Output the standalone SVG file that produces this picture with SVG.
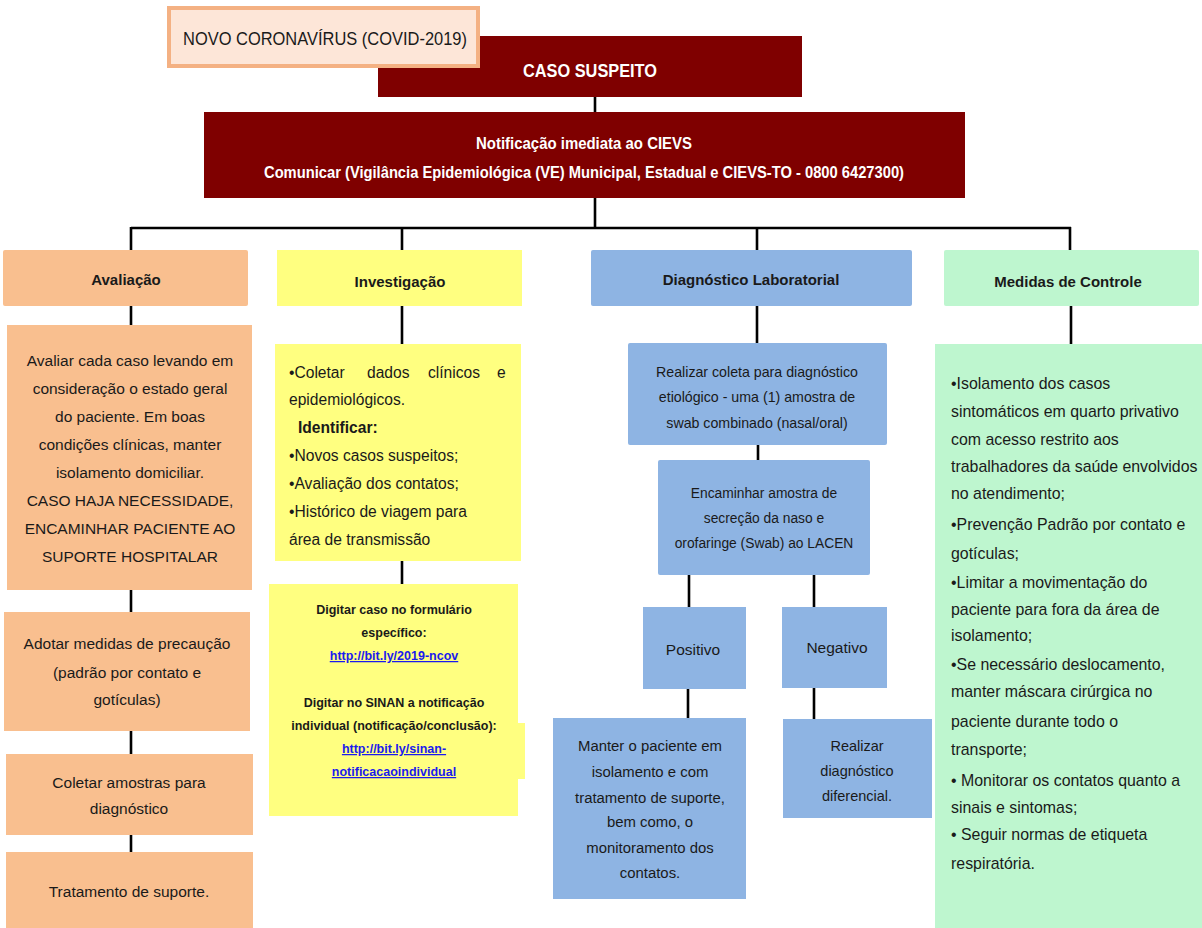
<svg xmlns="http://www.w3.org/2000/svg" width="1202" height="928" viewBox="0 0 1202 928">
<style>
text{font-family:"Liberation Sans",Arial,sans-serif;fill:#1a1a1a}
.c{text-anchor:middle}
.b{font-weight:bold}
.w{fill:#ffffff;font-weight:bold}
.lk{fill:#1a1aee;text-decoration:underline;font-weight:bold}
.ln{fill:none;stroke:#000;stroke-width:2.6}
.mar{fill:#7f0000}
.pe{fill:#f9bf8f}
.ye{fill:#ffff80}
.bl{fill:#8eb4e3}
.gr{fill:#bef6cf}
.av{font-size:15.5px}
.iv{font-size:15.6px}
.gt{font-size:15.9px}
.hd{font-size:15px;font-weight:bold}
.dg{font-size:12.5px;font-weight:bold}
</style>
<rect width="1202" height="928" fill="#ffffff"/>

<g id="connectors">
<path class="ln" d="M595 97V112 M595 198V228 M131 228H1071 M131 227V250 M402 227V250 M757 227V250 M1070 227V250"/>
<path class="ln" d="M131 306V325 M402 306V344 M757 306V343 M1071 306V344"/>
<path class="ln" d="M131 590V612 M131 731V754 M131 835V852"/>
<path class="ln" d="M402 561V584"/>
<path class="ln" d="M758 445V460 M689 575V607 M814 575V607 M688 689V718 M814 688V719"/>
</g>

<g id="caso-suspeito">
<rect class="mar" x="378" y="36" width="424" height="61"/>
<text class="w c" x="590" y="77" font-size="19" textLength="134" lengthAdjust="spacingAndGlyphs">CASO SUSPEITO</text>
</g>

<g id="titulo">
<rect x="169" y="8" width="309" height="58" fill="#fde6d8" stroke="#f4b183" stroke-width="4"/>
<text class="c" x="325" y="45" font-size="18" textLength="284" lengthAdjust="spacingAndGlyphs">NOVO CORONAVÍRUS (COVID-2019)</text>
</g>

<g id="notificacao">
<rect class="mar" x="204" y="112" width="761" height="86"/>
<text class="w c" x="584" y="149" font-size="16" textLength="216" lengthAdjust="spacingAndGlyphs">Notificação imediata ao CIEVS</text>
<text class="w c" x="584" y="178" font-size="16" textLength="640" lengthAdjust="spacingAndGlyphs">Comunicar (Vigilância Epidemiológica (VE) Municipal, Estadual e CIEVS-TO - 0800 6427300)</text>
</g>

<g id="avaliacao">
<rect class="pe" x="3" y="250" width="245" height="56" rx="2"/>
<text class="hd c" x="126" y="285">Avaliação</text>
</g>
<g id="investigacao">
<rect class="ye" x="277" y="250" width="245" height="56"/>
<text class="hd c" x="400" y="287">Investigação</text>
</g>
<g id="diagnostico">
<rect class="bl" x="591" y="250" width="321" height="56" rx="2"/>
<text class="hd c" x="751" y="285">Diagnóstico Laboratorial</text>
</g>
<g id="medidas">
<rect class="gr" x="944" y="250" width="255" height="56" rx="2"/>
<text class="hd c" x="1068" y="287">Medidas de Controle</text>
</g>

<g id="avaliar">
<rect class="pe" x="7" y="325" width="245" height="265"/>
<g class="av">
<text class="c" x="130" y="366">Avaliar cada caso levando em</text>
<text class="c" x="130" y="394">consideração o estado geral</text>
<text class="c" x="130" y="422">do paciente. Em boas</text>
<text class="c" x="130" y="450">condições clínicas, manter</text>
<text class="c" x="130" y="478">isolamento domiciliar.</text>
<text class="c" x="130" y="506">CASO HAJA NECESSIDADE,</text>
<text class="c" x="130" y="534">ENCAMINHAR PACIENTE AO</text>
<text class="c" x="130" y="562">SUPORTE HOSPITALAR</text>
</g>
</g>

<g id="adotar">
<rect class="pe" x="4" y="612" width="246" height="119"/>
<g class="av">
<text class="c" x="127" y="649">Adotar medidas de precaução</text>
<text class="c" x="127" y="678">(padrão por contato e</text>
<text class="c" x="127" y="705">gotículas)</text>
</g>
</g>

<g id="coletar">
<rect class="pe" x="6" y="754" width="247" height="81"/>
<g class="av">
<text class="c" x="129" y="788">Coletar amostras para</text>
<text class="c" x="129" y="814">diagnóstico</text>
</g>
</g>

<g id="tratamento">
<rect class="pe" x="6" y="852" width="247" height="76"/>
<text class="av c" x="129" y="897">Tratamento de suporte.</text>
</g>

<g id="coletar-dados">
<rect class="ye" x="275" y="344" width="246" height="217"/>
<g class="iv">
<text x="289" y="378">•Coletar</text>
<text x="367" y="378">dados</text>
<text x="428" y="378">clínicos</text>
<text x="497" y="378">e</text>
<text x="289" y="405">epidemiológicos.</text>
<text class="b" x="298" y="433">Identificar:</text>
<text x="289" y="461">•Novos casos suspeitos;</text>
<text x="289" y="489">•Avaliação dos contatos;</text>
<text x="289" y="517">•Histórico de viagem para</text>
<text x="289" y="545">área de transmissão</text>
</g>
</g>

<g id="digitar">
<rect class="ye" x="269" y="584" width="249" height="232"/>
<rect class="ye" x="517" y="723" width="8" height="56"/>
<g class="dg">
<text class="c" x="394" y="614">Digitar caso no formulário</text>
<text class="c" x="394" y="637">específico:</text>
<text class="c lk" x="394" y="660">http://bit.ly/2019-ncov</text>
<text class="c" x="394" y="707">Digitar no SINAN a notificação</text>
<text class="c" x="394" y="730">individual (notificação/conclusão):</text>
<text class="c lk" x="394" y="753">http://bit.ly/sinan-</text>
<text class="c lk" x="394" y="776">notificacaoindividual</text>
</g>
</g>

<g id="realizar-coleta">
<rect class="bl" x="628" y="343" width="259" height="102" rx="2"/>
<g font-size="14.2">
<text class="c" x="757" y="377">Realizar coleta para diagnóstico</text>
<text class="c" x="757" y="402">etiológico - uma (1) amostra de</text>
<text class="c" x="757" y="428">swab combinado (nasal/oral)</text>
</g>
</g>

<g id="encaminhar">
<rect class="bl" x="658" y="460" width="212" height="115" rx="2"/>
<g font-size="13.8">
<text class="c" x="764" y="498">Encaminhar amostra de</text>
<text class="c" x="764" y="523">secreção da naso e</text>
<text class="c" x="764" y="548">orofaringe (Swab) ao LACEN</text>
</g>
</g>

<g id="positivo">
<rect class="bl" x="643" y="607" width="103" height="82"/>
<text class="c" x="693" y="655" font-size="15.5">Positivo</text>
</g>

<g id="negativo">
<rect class="bl" x="782" y="607" width="105" height="81"/>
<text class="c" x="837" y="653" font-size="15.5">Negativo</text>
</g>

<g id="manter">
<rect class="bl" x="553" y="718" width="193" height="181"/>
<g font-size="14.9">
<text class="c" x="650" y="751">Manter o paciente em</text>
<text class="c" x="650" y="777">isolamento e com</text>
<text class="c" x="650" y="803">tratamento de suporte,</text>
<text class="c" x="650" y="827">bem como, o</text>
<text class="c" x="650" y="853">monitoramento dos</text>
<text class="c" x="650" y="878">contatos.</text>
</g>
</g>

<g id="diferencial">
<rect class="bl" x="783" y="719" width="149" height="99"/>
<g font-size="14.5">
<text class="c" x="857" y="751">Realizar</text>
<text class="c" x="857" y="776">diagnóstico</text>
<text class="c" x="857" y="801">diferencial.</text>
</g>
</g>

<g id="medidas-lista">
<rect class="gr" x="935" y="344" width="267" height="584"/>
<g class="gt">
<text x="951" y="389">•Isolamento dos casos</text>
<text x="951" y="417">sintomáticos em quarto privativo</text>
<text x="951" y="445">com acesso restrito aos</text>
<text x="951" y="472">trabalhadores da saúde envolvidos</text>
<text x="951" y="499">no atendimento;</text>
<text x="951" y="530">•Prevenção Padrão por contato e</text>
<text x="951" y="559">gotículas;</text>
<text x="951" y="588">•Limitar a movimentação do</text>
<text x="951" y="615">paciente para fora da área de</text>
<text x="951" y="641">isolamento;</text>
<text x="951" y="670">•Se necessário deslocamento,</text>
<text x="951" y="697">manter máscara cirúrgica no</text>
<text x="951" y="727">paciente durante todo o</text>
<text x="951" y="755">transporte;</text>
<text x="951" y="786">• Monitorar os contatos quanto a</text>
<text x="951" y="813">sinais e sintomas;</text>
<text x="951" y="840">• Seguir normas de etiqueta</text>
<text x="951" y="869">respiratória.</text>
</g>
</g>
</svg>
